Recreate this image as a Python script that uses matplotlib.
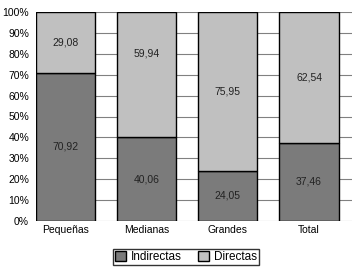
import numpy as np
import matplotlib.pyplot as plt
from matplotlib.ticker import FuncFormatter

plt.rcParams['font.family'] = ['Liberation Sans', 'DejaVu Sans']

categorias = ['Pequeñas', 'Medianas', 'Grandes', 'Total']
indirectas = [70.92, 40.06, 24.05, 37.46]
directas = [29.08, 59.94, 75.95, 62.54]
etiquetas_ind = ['70,92', '40,06', '24,05', '37,46']
etiquetas_dir = ['29,08', '59,94', '75,95', '62,54']

fig = plt.figure(figsize=(3.61, 2.67), dpi=100)
ax = fig.add_axes([36 / 361, 1 - 221 / 267, 316 / 361, 209 / 267])

x = np.arange(len(categorias))
ancho = 0.73
c_ind = '#7b7b7b'
c_dir = '#c0c0c0'
ax.bar(x, indirectas, ancho, color=c_ind, edgecolor='black', linewidth=1, label='Indirectas', zorder=3)
ax.bar(x, directas, ancho, bottom=indirectas, color=c_dir, edgecolor='black', linewidth=1, label='Directas', zorder=3)

desplaz_dir = [0, 10, 0, 0]
for i in range(len(x)):
    ax.text(x[i], indirectas[i] / 2, etiquetas_ind[i], ha='center', va='center', fontsize=7.5, color='#222222', zorder=4)
    ax.text(x[i], indirectas[i] + directas[i] / 2 + desplaz_dir[i], etiquetas_dir[i],
            ha='center', va='center', fontsize=7.5, color='#222222', zorder=4)

ax.set_ylim(0, 100)
ax.set_xlim(-0.365, 3.53)
ax.set_yticks(np.arange(0, 101, 10))
ax.yaxis.set_major_formatter(FuncFormatter(lambda v, p: '%d%%' % v))
ax.set_xticks(x)
ax.set_xticklabels(categorias)
ax.tick_params(axis='both', length=0, labelsize=7.5)
ax.tick_params(axis='y', pad=5)
ax.tick_params(axis='x', pad=3)
ax.grid(axis='y', color='#808080', linewidth=0.8, zorder=0)
for s in ax.spines.values():
    s.set_visible(False)

leg = fig.legend(loc='center', bbox_to_anchor=(186 / 361, 1 - 257 / 267), ncol=2, fontsize=8.5,
                 frameon=True, fancybox=False, edgecolor='black', handlelength=0.9, handleheight=0.9,
                 handletextpad=0.4, columnspacing=1.4, borderpad=0.2, borderaxespad=0)
leg.get_frame().set_linewidth(1)

fig.savefig('out.png', dpi=100)
